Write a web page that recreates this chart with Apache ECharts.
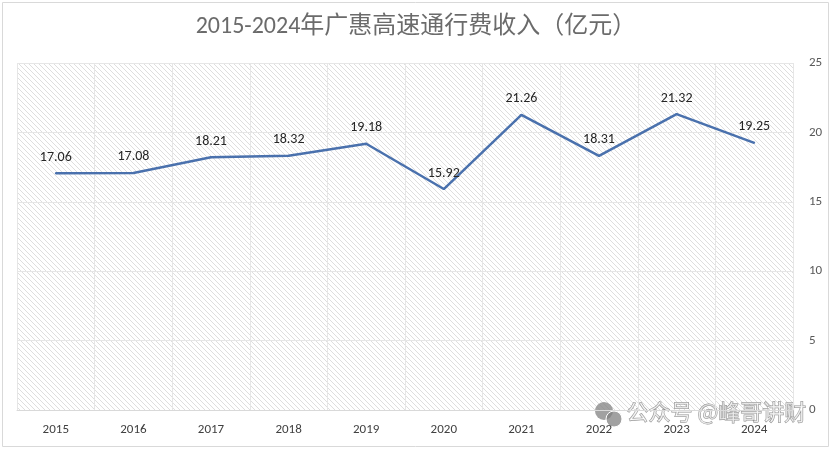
<!DOCTYPE html>
<html>
<head>
<meta charset="utf-8">
<script src="https://cdn.jsdelivr.net/npm/echarts@6/dist/echarts.min.js"></script>
<style>
  html, body { margin: 0; padding: 0; background: #fff; }
  #main { width: 832px; height: 450px; }
</style>
</head>
<body>
<div id="main"></div>
<script>
var years = ['2015', '2016', '2017', '2018', '2019', '2020', '2021', '2022', '2023', '2024'];
var revenue = [17.06, 17.08, 18.21, 18.32, 19.18, 15.92, 21.26, 18.31, 21.32, 19.25];
var yTicks = [0, 5, 10, 15, 20, 25];

// diagonal hatch for plot background
function makeHatch() {
  var s = 5;
  var c = document.createElement('canvas');
  c.width = s; c.height = s;
  var ctx = c.getContext('2d');
  ctx.fillStyle = '#ffffff';
  ctx.fillRect(0, 0, s, s);
  ctx.strokeStyle = '#dedede';
  ctx.lineWidth = 1;
  ctx.beginPath();
  ctx.moveTo(0, 0); ctx.lineTo(s, s);
  ctx.moveTo(-s, 0); ctx.lineTo(0, s);
  ctx.moveTo(0, -s); ctx.lineTo(s + s, s);
  ctx.stroke();
  return c;
}

var chart = echarts.init(document.getElementById('main'));
var font = 'Calibri, Carlito, "Noto Sans CJK SC", sans-serif';

var option = {
  animation: false,
  title: {
    text: '2015-2024年广惠高速通行费收入（亿元）',
    left: 'center',
    top: 10,
    textStyle: { color: '#6b6b6b', fontSize: 24, fontWeight: 'normal', fontFamily: font }
  },
  grid: {
    left: 17,
    right: 39,
    top: 63,
    bottom: 40,
    show: true,
    borderWidth: 0,
    backgroundColor: { image: makeHatch(), repeat: 'repeat' }
  },
  xAxis: {
    type: 'category',
    data: years,
    boundaryGap: true,
    axisLine: { show: true, lineStyle: { color: '#d9d9d9' } },
    axisTick: { show: false },
    axisLabel: { color: '#404040', fontSize: 13, fontFamily: font, margin: 13 },
    splitLine: { show: true, lineStyle: { color: '#e6e6e6' } }
  },
  yAxis: {
    type: 'value',
    position: 'right',
    min: yTicks[0],
    max: yTicks[yTicks.length - 1],
    interval: 5,
    axisLine: { show: false },
    axisTick: { show: false },
    axisLabel: { color: '#595959', fontSize: 13, fontFamily: font, margin: 16 },
    splitLine: { lineStyle: { color: '#e6e6e6' } }
  },
  series: [
    {
      type: 'line',
      data: revenue,
      showSymbol: true,
      symbol: 'circle',
      symbolSize: 2,
      itemStyle: { color: '#4a71ad' },
      lineStyle: { color: '#4a71ad', width: 2.5 },
      label: {
        show: true,
        position: 'top',
        distance: 8,
        color: '#262626',
        fontSize: 14,
        fontFamily: font,
        formatter: function (p) { return p.value.toFixed(2); }
      }
    }
  ],
  graphic: [
    {
      type: 'rect',
      shape: { x: 2.5, y: 2.5, width: 826, height: 444 },
      style: { fill: 'none', stroke: '#d9d9d9', lineWidth: 1 },
      silent: true
    },
    {
      type: 'circle',
      shape: { cx: 604, cy: 411, r: 9 },
      style: { fill: 'rgba(130,130,130,0.75)' },
      silent: true
    },
    {
      type: 'circle',
      shape: { cx: 614, cy: 419, r: 8 },
      style: { fill: 'rgba(130,130,130,0.75)', stroke: '#fff', lineWidth: 1 },
      silent: true
    },
    {
      type: 'text',
      left: 626,
      top: 400,
      style: {
        text: '公众号 @峰哥讲财',
        fill: 'rgba(255,255,255,0.6)',
        stroke: 'rgba(110,110,110,0.75)',
        lineWidth: 1,
        fontSize: 22,
        fontFamily: '"Noto Sans CJK SC", sans-serif'
      },
      silent: true
    }
  ]
};

chart.setOption(option);
</script>
</body>
</html>
